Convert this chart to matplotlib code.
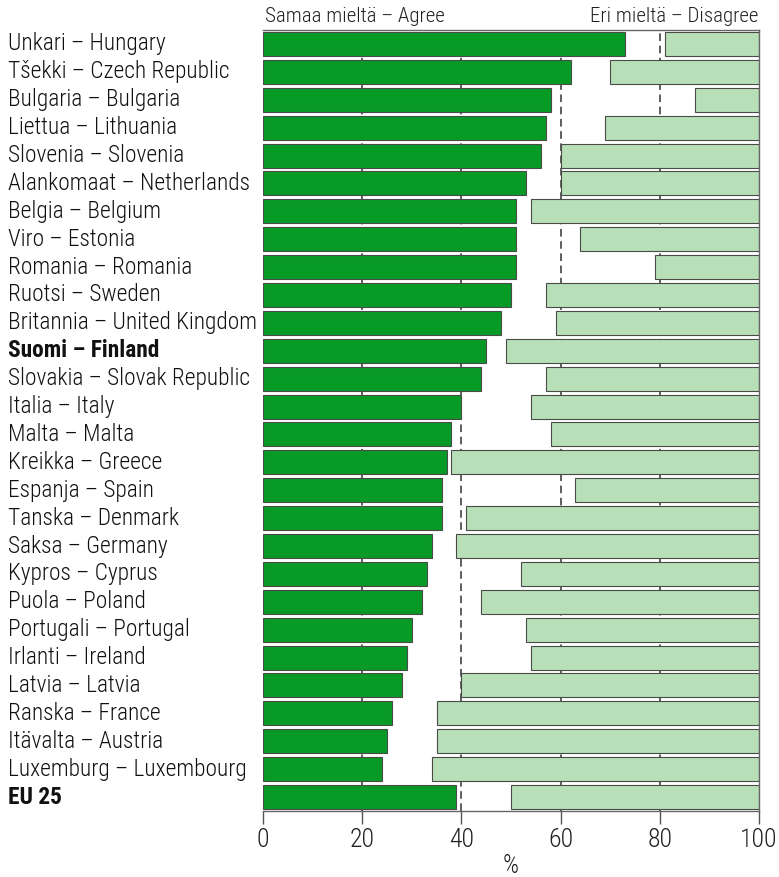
import matplotlib
matplotlib.use("Agg")
import matplotlib.pyplot as plt
import matplotlib.transforms as mtrans
import numpy as np

countries = ["Unkari – Hungary", "Tšekki – Czech Republic", "Bulgaria – Bulgaria",
             "Liettua – Lithuania", "Slovenia – Slovenia", "Alankomaat – Netherlands",
             "Belgia – Belgium", "Viro – Estonia", "Romania – Romania", "Ruotsi – Sweden",
             "Britannia – United Kingdom", "Suomi – Finland", "Slovakia – Slovak Republic",
             "Italia – Italy", "Malta – Malta", "Kreikka – Greece", "Espanja – Spain",
             "Tanska – Denmark", "Saksa – Germany", "Kypros – Cyprus", "Puola – Poland",
             "Portugali – Portugal", "Irlanti – Ireland", "Latvia – Latvia",
             "Ranska – France", "Itävalta – Austria", "Luxemburg – Luxembourg", "EU 25"]
agree = [73, 62, 58, 57, 56, 53, 51, 51, 51, 50, 48, 45, 44, 40, 38, 37, 36, 36,
         34, 33, 32, 30, 29, 28, 26, 25, 24, 39]
disagree = [19, 30, 13, 31, 40, 40, 46, 36, 21, 43, 41, 51, 43, 46, 42, 62, 37, 59,
            61, 48, 56, 47, 46, 60, 65, 65, 66, 50]
bold_rows = ["Suomi – Finland", "EU 25"]
xticks = [0, 20, 40, 60, 80, 100]
gridlines = [20, 40, 60, 80]

plt.rcParams['font.family'] = ['Roboto Condensed', 'DejaVu Sans']
plt.rcParams['font.weight'] = 300

fig = plt.figure(figsize=(7.79, 8.77), dpi=100)
ax = fig.add_axes([263/779, 1 - 811/877, (759-263)/779, (811-30)/877])

n = len(countries)
y = np.arange(n)
h = 0.86
dark = "#079b25"
light = "#b8e0b8"
edge = "#4a4a4a"

for g in gridlines:
    ax.axvline(g, color="#333333", lw=1.1, ls=(0, (5, 3)), zorder=1)

ax.barh(y, agree, height=h, color=dark, edgecolor=edge, lw=0.8, zorder=2)
left = [100 - d for d in disagree]
ax.barh(y, disagree, left=left, height=h, color=light, edgecolor=edge, lw=0.8, zorder=2)

ax.set_xlim(0, 100)
ax.set_ylim(n - 0.5, -0.5)
ax.set_yticks([])
ax.set_xticks(xticks)
ax.set_xticklabels([str(t) for t in xticks], fontsize=18.5, color="#222222", fontweight=300)
ax.tick_params(axis='x', direction='out', length=9, width=1, color="#555555", pad=3)
ax.set_xlabel("%", fontsize=18, color="#222222", labelpad=2, fontweight=300)

ax.spines["left"].set_visible(False)
for s in ["bottom", "right", "top"]:
    ax.spines[s].set_color("#666666")
    ax.spines[s].set_linewidth(1.0)

trans = mtrans.blended_transform_factory(fig.transFigure, ax.transData)
for i, c in enumerate(countries):
    fw = "bold" if c in bold_rows else 300
    fig.text(8/779, i, c, ha="left", va="center", fontsize=16.8, fontweight=fw,
             color="#111111", transform=trans)

fig.text(265/779, 1 - 17/877, "Samaa mieltä – Agree", ha="left", va="center",
         fontsize=15, color="#222222", fontweight=300)
fig.text(758/779, 1 - 17/877, "Eri mieltä – Disagree", ha="right", va="center",
         fontsize=15, color="#222222", fontweight=300)

fig.savefig("out.png", dpi=100)
